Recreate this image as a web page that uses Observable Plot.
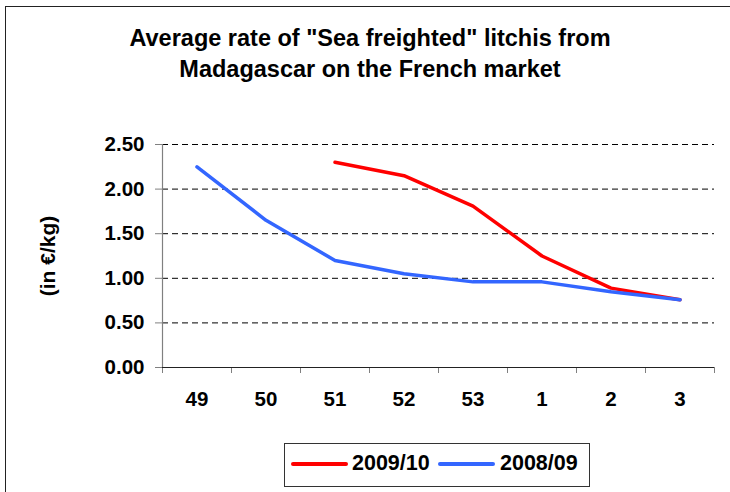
<!DOCTYPE html>
<html>
<head>
<meta charset="utf-8">
<script src="https://cdn.jsdelivr.net/npm/d3@7"></script>
<script src="https://cdn.jsdelivr.net/npm/@observablehq/plot@0.6"></script>
<style>
  html, body { margin: 0; padding: 0; background: #fff; }
  #wrap { position: relative; width: 730px; height: 492px; overflow: hidden; font-family: "Liberation Sans", Arial, sans-serif; font-weight: bold; color: #000; }
  #frame { position: absolute; left: 5px; top: 6px; width: 800px; height: 600px; border: 1.5px solid #222; box-sizing: border-box; }
  #title { position: absolute; left: 0; top: 23px; width: 740px; text-align: center; font-size: 23.5px; line-height: 30.5px; }
  #ylabel { position: absolute; left: 48px; top: 256px; transform: translate(-50%, -50%) rotate(-90deg); font-size: 21px; white-space: nowrap; line-height: 24px; }
  #legend { position: absolute; left: 284px; top: 443px; width: 306px; height: 44px; border: 1px solid #333; box-sizing: border-box; }
  .sw { position: absolute; height: 4px; border-radius: 2px; top: 18px; }
  .lt { position: absolute; top: 8px; font-size: 21.5px; line-height: 22px; white-space: nowrap; }
  #chart { position: absolute; left: 0; top: 0; }
  #chart svg text { font-weight: bold; }
</style>
</head>
<body>
<div id="wrap">
  <div id="frame"></div>
  <div id="chart"></div>
  <div id="title">Average rate of "Sea freighted" litchis from<br>Madagascar on the French market</div>
  <div id="ylabel">(in €/kg)</div>
  <div id="legend"></div>
</div>
<script>
// ---- data ----
const weeks = ["49", "50", "51", "52", "53", "1", "2", "3"];
const season2009 = [null, null, 2.30, 2.15, 1.81, 1.25, 0.89, 0.76];
const season2008 = [2.25, 1.65, 1.20, 1.05, 0.96, 0.96, 0.85, 0.76];
const seriesNames = ["2009/10", "2008/09"];
const seriesColors = ["#ff0000", "#3366ff"];
const yTicks = [0, 0.5, 1, 1.5, 2, 2.5];

const rows = weeks.map((w, i) => ({ i, week: w, a: season2009[i], b: season2008[i] }));
const boundaries = weeks.map((_, i) => i - 0.5).concat([weeks.length - 0.5]);
const idx = weeks.map((_, i) => i);

const chart = Plot.plot({
  width: 730,
  height: 492,
  marginLeft: 162,
  marginRight: 16,
  marginTop: 144,
  marginBottom: 125,
  style: { fontFamily: "'Liberation Sans', Arial, sans-serif", fontSize: "20.5px", color: "#000", background: "transparent" },
  x: { type: "linear", domain: [-0.5, weeks.length - 0.5] },
  y: { domain: [0, 2.5] },
  marks: [
    Plot.ruleY(yTicks.filter(d => d > 0), { stroke: "#000", strokeWidth: 1, strokeDasharray: "6,4" }),
    Plot.axisY({ ticks: yTicks, tickFormat: d3.format(".2f"), tickSize: 7, tickPadding: 11, stroke: "#808080", fill: "#000", label: null }),
    Plot.axisX({ ticks: boundaries, tickFormat: () => "", tickSize: 6, stroke: "#808080", label: null }),
    Plot.axisX({ ticks: idx, tickFormat: i => weeks[i], tickSize: 0, tickPadding: 24, fill: "#000", label: null }),
    Plot.ruleX([-0.5], { stroke: "#808080", strokeWidth: 1.2 }),
    Plot.ruleY([0], { stroke: "#222", strokeWidth: 1.2 }),
    Plot.line(rows, { x: "i", y: "a", stroke: seriesColors[0], strokeWidth: 3.5, strokeLinecap: "round", strokeLinejoin: "round" }),
    Plot.line(rows, { x: "i", y: "b", stroke: seriesColors[1], strokeWidth: 3.5, strokeLinecap: "round", strokeLinejoin: "round" })
  ]
});
document.getElementById("chart").appendChild(chart);

// legend
const legend = document.getElementById("legend");
const swLeft = [6, 153];
const txtLeft = [67, 215];
seriesNames.forEach((name, k) => {
  const sw = document.createElement("div");
  sw.className = "sw";
  sw.style.left = swLeft[k] + "px";
  sw.style.width = "57px";
  sw.style.background = seriesColors[k];
  legend.appendChild(sw);
  const t = document.createElement("div");
  t.className = "lt";
  t.style.left = txtLeft[k] + "px";
  t.textContent = name;
  legend.appendChild(t);
});
</script>
</body>
</html>
